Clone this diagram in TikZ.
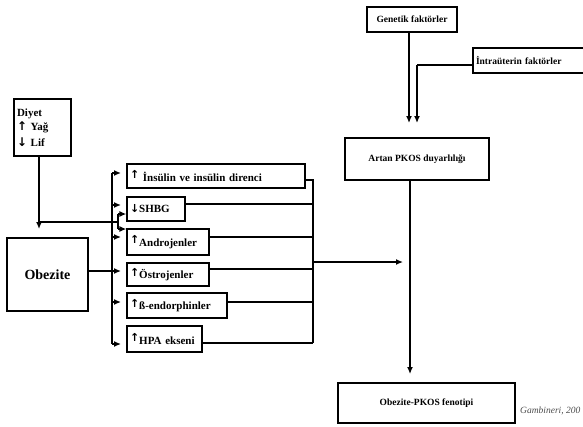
\documentclass[tikz,border=0pt]{standalone}
\usepackage{fontspec}
\setmainfont{Liberation Serif}
\newfontfamily\arrowfont{DejaVu Sans}
\usetikzlibrary{arrows.meta}
\begin{document}
\begin{tikzpicture}[x=1pt,y=-1pt,
  box/.style={draw, line width=1.3pt, inner sep=0pt, font=\bfseries\fontsize{9.5}{11}\selectfont},
  mbox/.style={box, inner xsep=3pt, align=left, font=\bfseries\fontsize{11}{13}\selectfont},
  ln/.style={line width=1.3pt},
  arr/.style={ln, -{Latex[length=7pt,width=6pt]}}]
\useasboundingbox (0,0) rectangle (583,426);
\newcommand{\up}{\raisebox{2.5pt}{\arrowfont\fontsize{11}{11}\selectfont ↑}}
\newcommand{\dn}{{\arrowfont\fontsize{11}{11}\selectfont ↓}}
% left boxes
\node[box, minimum width=57, minimum height=57, text width=51, inner xsep=3pt, align=left,
      font=\bfseries\fontsize{11}{15}\selectfont] (diyet) at (42.5,127.5) {Diyet\\[-1pt]{\arrowfont\fontsize{12}{12}\selectfont ↑} Yağ\\[1pt]{\arrowfont\fontsize{12}{12}\selectfont ↓}\ Lif\\[2pt]};
\node[box, minimum width=81, minimum height=73, font=\bfseries\fontsize{14}{16}\selectfont] (obezite) at (47.5,274.5) {Obezite};
% middle boxes
\node[mbox, minimum height=24, text width=172] (ins) at (216,176) {\up\ İnsülin ve insülin direnci};
\node[mbox, minimum height=24, text width=52] (shbg) at (156,209) {\dn SHBG};
\node[mbox, minimum height=26, text width=76] (andr) at (168,242) {\up Androjenler};
\node[mbox, minimum height=23, text width=76] (ostr) at (168,274.5) {\up Östrojenler};
\node[mbox, minimum height=25, text width=94] (beta) at (177,305.5) {\up ß-endorphinler};
\node[mbox, minimum height=26, text width=69] (hpa) at (164.5,339) {\up HPA ekseni};
% right boxes
\node[box, minimum width=90, minimum height=25] (gen) at (412,19.5) {Genetik faktörler};
\node[box, minimum width=117, minimum height=25, text width=111, inner xsep=3pt, align=left] (intra) at (531.5,60.5) {İntraüterin faktörler};
\node[box, minimum width=144, minimum height=42] (artan) at (417,159) {Artan PKOS duyarlılığı};
\node[box, minimum width=177, minimum height=40] (pkos) at (426.5,403) {Obezite-PKOS fenotipi};
\node[anchor=west, inner sep=0pt, font=\itshape\fontsize{9.5}{11}\selectfont, text=black!70] (ref) at (520,411) {Gambineri, 200};
% coordinates
\coordinate (j1) at (39,222);
\coordinate (j1e) at (39,229);
\coordinate (br) at (118,222);
\coordinate (brt) at (118,214);
\coordinate (brb) at (118,229);
\coordinate (tt) at (112,173);
\coordinate (tb) at (112,344);
\coordinate (ct) at (313,180);
\coordinate (cb) at (313,343);
\coordinate (cm) at (313,262);
\coordinate (cme) at (403,262);
\coordinate (ia) at (417,65);
\coordinate (ge) at (409,123);
\coordinate (ie) at (417,123);
\coordinate (ae) at (410,374);
% Diyet connectors
\draw[ln] (diyet.south -| j1) -- (j1);
\draw[arr] (j1) -- (j1e);
\draw[ln] (j1) -- (br);
\draw[ln] (brt) -- (brb);
\draw[arr] (brt) -- (brt -| shbg.west);
\draw[arr] (brb) -- (brb -| andr.west);
% trunk
\draw[ln] (tt) -- (tb);
\draw[ln] (obezite.east |- 0,271) -- (112,271);
\foreach \y in {173,205,237,271,302,344}{\draw[arr] (112,\y) -- (121,\y);}
% collector
\draw[ln] (ins.east |- ct) -- (ct) -- (cb);
\draw[ln] (shbg.east |- 0,204) -- (313,204);
\draw[ln] (andr.east |- 0,237) -- (313,237);
\draw[ln] (ostr.east |- 0,269) -- (313,269);
\draw[ln] (beta.east |- 0,302) -- (313,302);
\draw[ln] (hpa.east |- cb) -- (cb);
\draw[arr] (cm) -- (cme);
% right
\draw[arr] (gen.south -| ge) -- (ge);
\draw[ln] (intra.west |- ia) -- (ia);
\draw[arr] (ia) -- (ie);
\draw[arr] (artan.south -| ae) -- (ae);
\end{tikzpicture}
\end{document}
